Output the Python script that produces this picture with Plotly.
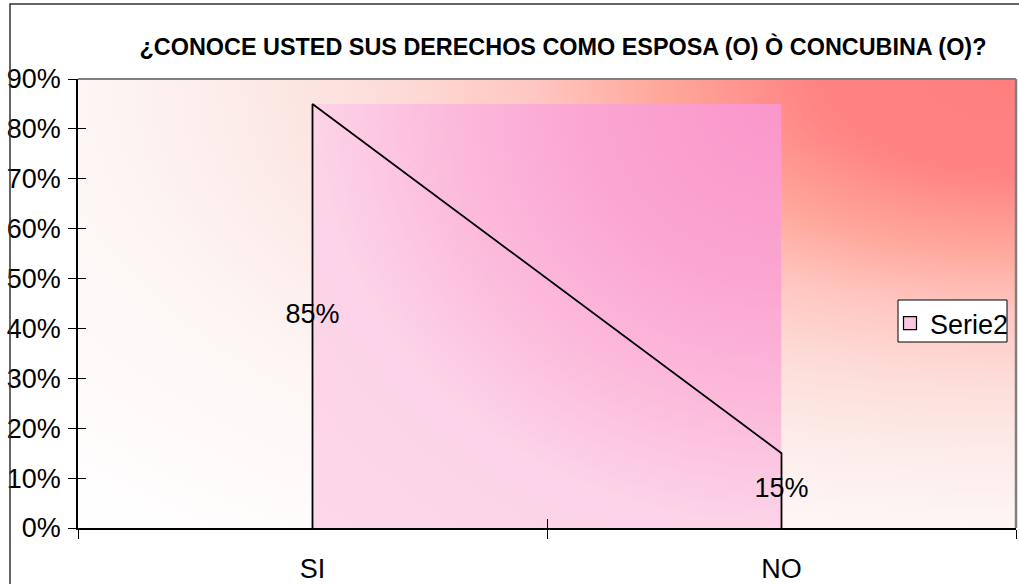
import base64
import plotly.graph_objects as go

# ---- data ----
CATEGORIES = ["SI", "NO"]
VALUES = [0.85, 0.15]
LABELS = ["85%", "15%"]
SERIES_NAME = "Serie2"
TITLE = "¿CONOCE USTED SUS DERECHOS COMO ESPOSA (O) Ò CONCUBINA (O)?"
Y_TICKS = [0, 0.1, 0.2, 0.3, 0.4, 0.5, 0.6, 0.7, 0.8, 0.9]

FONT = "Liberation Sans, Arial, sans-serif"
W, H = 1019, 584
ML, MR, MT, MB = 78, 3, 79, 56
PW, PH = W - ML - MR, H - MT - MB


def px_x(x):
    return (x - ML) / PW


def px_y(y):
    return (H - MB - y) / PH


def radial_svg(stops):
    st = "".join(f'<stop offset="{o}" stop-color="{c}"/>' for o, c in stops)
    svg = ('<svg xmlns="http://www.w3.org/2000/svg" width="100" height="100" '
           'viewBox="0 0 100 100" preserveAspectRatio="none"><defs>'
           '<radialGradient id="g" cx="1" cy="0" r="1.42" gradientUnits="objectBoundingBox">'
           f'{st}</radialGradient></defs>'
           '<rect x="0" y="0" width="100" height="100" fill="url(#g)"/></svg>')
    return "data:image/svg+xml;base64," + base64.b64encode(svg.encode()).decode()


bg_src = radial_svg([(0, "#FF7F7F"), (0.15, "#FF8383"), (0.27, "#FFA89C"),
                     (0.36, "#FFC6C0"), (0.47, "#FDDCD8"), (0.57, "#FCEAE7"),
                     (0.70, "#FDF6F5"), (1, "#FFFFFF")])
area_src = radial_svg([(0, "#FA96CA"), (0.3, "#FBA6D2"), (0.5, "#FCBADB"),
                       (0.7, "#FCD3E8"), (1, "#FDD8EA")])

n = len(CATEGORIES)
line_x = [CATEGORIES[0]] + CATEGORIES + [CATEGORIES[-1]]
line_y = [0] + VALUES + [0]

fig = go.Figure()
fig.add_trace(go.Scatter(x=line_x, y=line_y, mode="lines",
                         line=dict(color="black", width=1.8),
                         showlegend=False, hoverinfo="skip"))
fig.add_trace(go.Scatter(x=CATEGORIES, y=[v / 2 for v in VALUES], mode="text",
                         text=LABELS, textposition="middle center",
                         textfont=dict(family=FONT, size=27, color="black"),
                         showlegend=False, hoverinfo="skip"))
# legend-only entry (no data points), living on the overlay axes
fig.add_trace(go.Scatter(x=[None], y=[None], mode="markers", name=SERIES_NAME,
                         xaxis="x2", yaxis="y2",
                         marker=dict(symbol="square", size=13, color="#FCC6E2",
                                     line=dict(color="black", width=1.2))))

fig.update_layout(
    width=W, height=H,
    margin=dict(l=ML, r=MR, t=MT, b=MB),
    paper_bgcolor="white",
    plot_bgcolor="rgba(0,0,0,0)",
    font=dict(family=FONT, size=27, color="black"),
    title=dict(text=f"<b>{TITLE}</b>", x=563 / W, xref="container", xanchor="center",
               y=1 - 47 / H, yref="container", yanchor="middle",
               font=dict(family=FONT, size=23.4, color="black")),
    showlegend=True,
    legend=dict(x=px_x(890), y=px_y(299), xanchor="left", yanchor="top",
                bgcolor="rgba(0,0,0,0)", borderwidth=0,
                font=dict(family=FONT, size=27, color="black"),
                itemwidth=30, tracegroupgap=0),
    xaxis=dict(type="category", categoryorder="array", categoryarray=CATEGORIES,
               range=[-0.5, n - 0.5], showgrid=False, zeroline=False,
               showline=True, linecolor="black", linewidth=1.8,
               ticks="outside", tickson="boundaries", ticklen=9, tickwidth=1.2,
               tickcolor="black", ticklabelstandoff=16, automargin=False,
               tickfont=dict(family=FONT, size=27, color="black")),
    yaxis=dict(range=[0, 0.9], tickvals=Y_TICKS, tickformat=".0%",
               showgrid=False, zeroline=False, showline=True, linecolor="black",
               linewidth=1.8, ticks="outside", ticklen=8, tickwidth=1.2,
               tickcolor="black", ticklabelstandoff=2, automargin=False,
               tickfont=dict(family=FONT, size=27, color="black")),
    yaxis2=dict(overlaying="y", range=[0, 0.9], tickvals=Y_TICKS, showticklabels=False,
                showgrid=False, zeroline=False, ticks="inside", ticklen=8,
                tickwidth=1.2, tickcolor="black", anchor="x2", side="left",
                automargin=False),
    xaxis2=dict(overlaying="x", range=[-0.5, n - 0.5],
                tickvals=[i - 0.5 for i in range(n + 1)], showticklabels=False,
                showgrid=False, zeroline=False, ticks="inside", ticklen=9,
                tickwidth=1.2, tickcolor="black", anchor="y2", side="bottom",
                automargin=False),
    images=[
        dict(source=bg_src, xref="paper", yref="paper", x=0, y=1, sizex=1, sizey=1,
             xanchor="left", yanchor="top", sizing="stretch", layer="below"),
        dict(source=area_src, xref="x", yref="y", x=0, y=max(VALUES),
             sizex=n - 1, sizey=max(VALUES), xanchor="left", yanchor="top",
             sizing="stretch", layer="below"),
    ],
    shapes=[
        dict(type="line", xref="paper", yref="paper", x0=0, x1=1, y0=1, y1=1,
             line=dict(color="#808080", width=2), layer="above"),
        dict(type="line", xref="paper", yref="paper", x0=1, x1=1, y0=0, y1=1,
             line=dict(color="#808080", width=2.5), layer="above"),
        dict(type="rect", xref="paper", yref="paper",
             x0=px_x(10), x1=1.05, y0=-0.3, y1=px_y(4),
             line=dict(color="#333333", width=1.5), layer="above"),
        # legend box
        dict(type="rect", xref="paper", yref="paper",
             x0=px_x(898), x1=px_x(1007), y0=px_y(342), y1=px_y(300),
             fillcolor="white", line=dict(color="black", width=1), layer="above"),
    ],
)

fig.write_html("out.html", config={"displayModeBar": False},
               post_script="document.body.style.margin='0';")
